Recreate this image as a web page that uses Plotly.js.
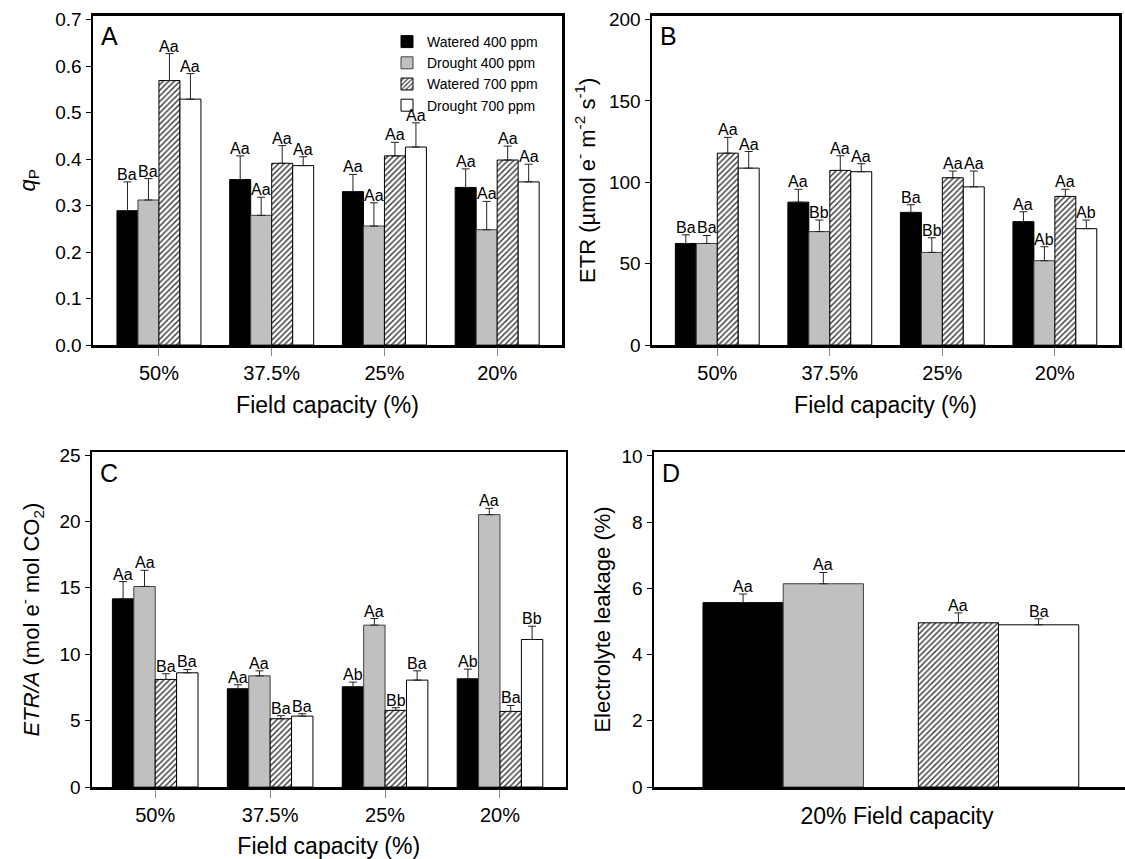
<!DOCTYPE html>
<html>
<head>
<meta charset="utf-8">
<script src="https://cdn.plot.ly/plotly-3.0.1.min.js"></script>
<style>
html,body{margin:0;padding:0;overflow:hidden;background:#fff;}
#chart{width:1145px;height:859px;}
</style>
</head>
<body>
<div id="chart"></div>
<script>
// ---------- data ----------
const categories = ['50%', '37.5%', '25%', '20%'];
const seriesNames = ['Watered 400 ppm', 'Drought 400 ppm', 'Watered 700 ppm', 'Drought 700 ppm'];

// Panel A: qP
const qpW400 = [0.289, 0.356, 0.330, 0.339];
const qpD400 = [0.312, 0.279, 0.256, 0.248];
const qpW700 = [0.569, 0.391, 0.407, 0.398];
const qpD700 = [0.529, 0.386, 0.426, 0.351];
const qpW400Err = [0.062, 0.051, 0.037, 0.040];
const qpD400Err = [0.046, 0.039, 0.050, 0.061];
const qpW700Err = [0.058, 0.038, 0.029, 0.030];
const qpD700Err = [0.055, 0.019, 0.052, 0.038];
const qpW400Let = ['Ba', 'Aa', 'Aa', 'Aa'];
const qpD400Let = ['Ba', 'Aa', 'Aa', 'Aa'];
const qpW700Let = ['Aa', 'Aa', 'Aa', 'Aa'];
const qpD700Let = ['Aa', 'Aa', 'Aa', 'Aa'];

// Panel B: ETR
const etrW400 = [62.4, 87.8, 81.5, 75.8];
const etrD400 = [62.4, 69.7, 56.9, 51.8];
const etrW700 = [117.9, 107.3, 102.8, 91.3];
const etrD700 = [108.7, 106.5, 97.2, 71.5];
const etrW400Err = [5.3, 7.9, 4.7, 6.1];
const etrD400Err = [4.9, 7.1, 9.0, 8.6];
const etrW700Err = [9.7, 9.0, 4.1, 4.4];
const etrD700Err = [10.2, 4.9, 9.7, 5.3];
const etrW400Let = ['Ba', 'Aa', 'Ba', 'Aa'];
const etrD400Let = ['Ba', 'Bb', 'Bb', 'Ab'];
const etrW700Let = ['Aa', 'Aa', 'Aa', 'Aa'];
const etrD700Let = ['Aa', 'Aa', 'Aa', 'Ab'];

// Panel C: ETR/A
const etraW400 = [14.17, 7.40, 7.55, 8.15];
const etraD400 = [15.10, 8.37, 12.19, 20.51];
const etraW700 = [8.10, 5.14, 5.77, 5.69];
const etraD700 = [8.60, 5.34, 8.05, 11.11];
const etraW400Err = [1.30, 0.30, 0.35, 0.73];
const etraD400Err = [1.22, 0.38, 0.50, 0.48];
const etraW700Err = [0.43, 0.23, 0.20, 0.45];
const etraD700Err = [0.25, 0.18, 0.70, 1.00];
const etraW400Let = ['Aa', 'Aa', 'Ab', 'Ab'];
const etraD400Let = ['Aa', 'Aa', 'Aa', 'Aa'];
const etraW700Let = ['Ba', 'Ba', 'Bb', 'Ba'];
const etraD700Let = ['Ba', 'Ba', 'Ba', 'Bb'];

// Panel D: electrolyte leakage at 20% field capacity
const elCo2Groups = ['400 ppm', '700 ppm'];
const elValues = [5.57, 6.14, 4.96, 4.90];
const elErr = [0.26, 0.34, 0.30, 0.18];
const elLetters = ['Aa', 'Aa', 'Aa', 'Ba'];

// ---------- style ----------
const FONT = 'Liberation Sans, Arial, Helvetica, sans-serif';
const BARGAP = 0.255;
const styles = [
  {color: '#000000', line: {color: '#000000', width: 1}},
  {color: '#c0c0c0', line: {color: '#404040', width: 1}},
  {color: '#ffffff', line: {color: '#000000', width: 1},
   pattern: {shape: '/', fgcolor: '#333333', bgcolor: '#ffffff', size: 4, solidity: 0.35}},
  {color: '#ffffff', line: {color: '#000000', width: 1}}
];

const traces = [];
const annotations = [];

function errY(err) {
  return {type: 'data', symmetric: false, array: err, arrayminus: err.map(() => 0),
          color: '#222222', thickness: 1, width: 4};
}

function groupedPanel(xa, ya, vals, errs, lets, legend) {
  const n = vals.length;
  const w = (1 - BARGAP) / n;
  vals.forEach((v, k) => {
    traces.push({
      type: 'bar', x: categories, y: v, name: seriesNames[k],
      xaxis: xa, yaxis: ya, marker: styles[k], error_y: errY(errs[k]),
      showlegend: legend, hoverinfo: 'y'
    });
    v.forEach((val, i) => {
      annotations.push({
        xref: xa, yref: ya, x: i - (1 - BARGAP) / 2 + w * (k + 0.5), y: val + errs[k][i],
        text: lets[k][i], showarrow: false, yanchor: 'bottom', yshift: -3,
        font: {size: 16, family: FONT, color: '#000'}
      });
    });
  });
}

groupedPanel('x', 'y', [qpW400, qpD400, qpW700, qpD700],
  [qpW400Err, qpD400Err, qpW700Err, qpD700Err],
  [qpW400Let, qpD400Let, qpW700Let, qpD700Let], true);
groupedPanel('x2', 'y2', [etrW400, etrD400, etrW700, etrD700],
  [etrW400Err, etrD400Err, etrW700Err, etrD700Err],
  [etrW400Let, etrD400Let, etrW700Let, etrD700Let], false);
groupedPanel('x3', 'y3', [etraW400, etraD400, etraW700, etraD700],
  [etraW400Err, etraD400Err, etraW700Err, etraD700Err],
  [etraW400Let, etraD400Let, etraW700Let, etraD700Let], false);

// Panel D: two CO2 groups, watered/drought side by side
const dGroup = [0, 0, 1, 1];
const dSlot = ['w', 'd', 'w', 'd'];
elValues.forEach((val, k) => {
  traces.push({
    type: 'bar', x: [elCo2Groups[dGroup[k]]], y: [val], name: seriesNames[k],
    offsetgroup: dSlot[k], xaxis: 'x4', yaxis: 'y4', marker: styles[k],
    error_y: errY([elErr[k]]), showlegend: false, hoverinfo: 'y'
  });
  const w = (1 - BARGAP) / 2;
  annotations.push({
    xref: 'x4', yref: 'y4',
    x: dGroup[k] - (1 - BARGAP) / 2 + w * ((k % 2) + 0.5), y: val + elErr[k],
    text: elLetters[k], showarrow: false, yanchor: 'bottom', yshift: -3,
    font: {size: 16, family: FONT, color: '#000'}
  });
});

// panel letters
[['A', 'x', 'y'], ['B', 'x2', 'y2'], ['C', 'x3', 'y3'], ['D', 'x4', 'y4']].forEach(([t, xa, ya]) => {
  annotations.push({xref: xa + ' domain', yref: ya + ' domain', x: 0.012, y: 0.985,
    xanchor: 'left', yanchor: 'top', text: t, showarrow: false,
    font: {size: 25, family: FONT, color: '#000'}});
});

// ---------- layout ----------
const W = 1145, H = 859;
const px = (a, b) => [a / W, b / W];
const py = (top, bottom) => [1 - bottom / H, 1 - top / H];

function xAxis(dom, range, anchor, title, showTicks, standoff) {
  return {
    domain: dom, range: range, type: 'category', anchor: anchor,
    showline: true, linewidth: 2.5, linecolor: '#000', mirror: true,
    ticks: showTicks ? 'outside' : '', ticklen: 8, tickwidth: 1, tickcolor: '#8a8a8a',
    showticklabels: showTicks, tickfont: {size: 20, family: FONT, color: '#000'},
    showgrid: false, zeroline: false, fixedrange: true,
    title: {text: title, font: {size: 23, family: FONT, color: '#000'}, standoff: standoff}
  };
}
function yAxis(dom, range, anchor, dtick, fmt, title, standoff) {
  return {
    domain: dom, range: range, anchor: anchor, dtick: dtick, tick0: 0, tickformat: fmt,
    showline: true, linewidth: 2.5, linecolor: '#000', mirror: true,
    ticks: 'outside', ticklen: 5, tickwidth: 1, tickcolor: '#000',
    tickfont: {size: 19, family: FONT, color: '#000'},
    showgrid: false, zeroline: false, fixedrange: true,
    title: {text: title, font: {size: 22, family: FONT, color: '#000'}, standoff: standoff}
  };
}

const layout = {
  width: W, height: H,
  margin: {l: 0, r: 0, t: 0, b: 0},
  paper_bgcolor: '#fff', plot_bgcolor: '#fff',
  font: {family: FONT, color: '#000'},
  barmode: 'group', bargap: BARGAP, bargroupgap: 0,
  showlegend: true,
  legend: {x: 387 / W, y: 1 - 26 / H, xanchor: 'left', yanchor: 'top',
           bgcolor: 'rgba(0,0,0,0)', font: {size: 14, family: FONT, color: '#000'},
           tracegroupgap: 0, traceorder: 'normal'},
  xaxis: xAxis(px(93, 562), [-0.585, 3.575], 'y', 'Field capacity (%)', true, 15),
  yaxis: yAxis(py(15.5, 345), [0, 0.709], 'x', 0.1, '.1f', '<i>q</i><sub>P</sub>', 14),
  xaxis2: xAxis(px(652, 1119), [-0.58, 3.57], 'y2', 'Field capacity (%)', true, 15),
  yaxis2: yAxis(py(15.5, 345), [0, 202.5], 'x2', 50, '', 'ETR (µmol e<sup>-</sup> m<sup>-2</sup> s<sup>-1</sup>)', 8),
  xaxis3: xAxis(px(92, 565.5), [-0.55, 3.57], 'y3', 'Field capacity (%)', true, 15),
  yaxis3: yAxis(py(452, 787), [0, 25.23], 'x3', 5, '', '<i>ETR/A</i> (mol e<sup>-</sup> mol CO<sub>2</sub>)', 14),
  xaxis4: xAxis(px(654, 1140), [-0.6, 1.657], 'y4', '20% Field capacity', false, 20),
  yaxis4: yAxis(py(452, 787), [0, 10.12], 'x4', 2, '', 'Electrolyte leakage (%)', 5),
  annotations: annotations
};

Plotly.newPlot('chart', traces, layout, {displayModeBar: false, staticPlot: true});
</script>
</body>
</html>
